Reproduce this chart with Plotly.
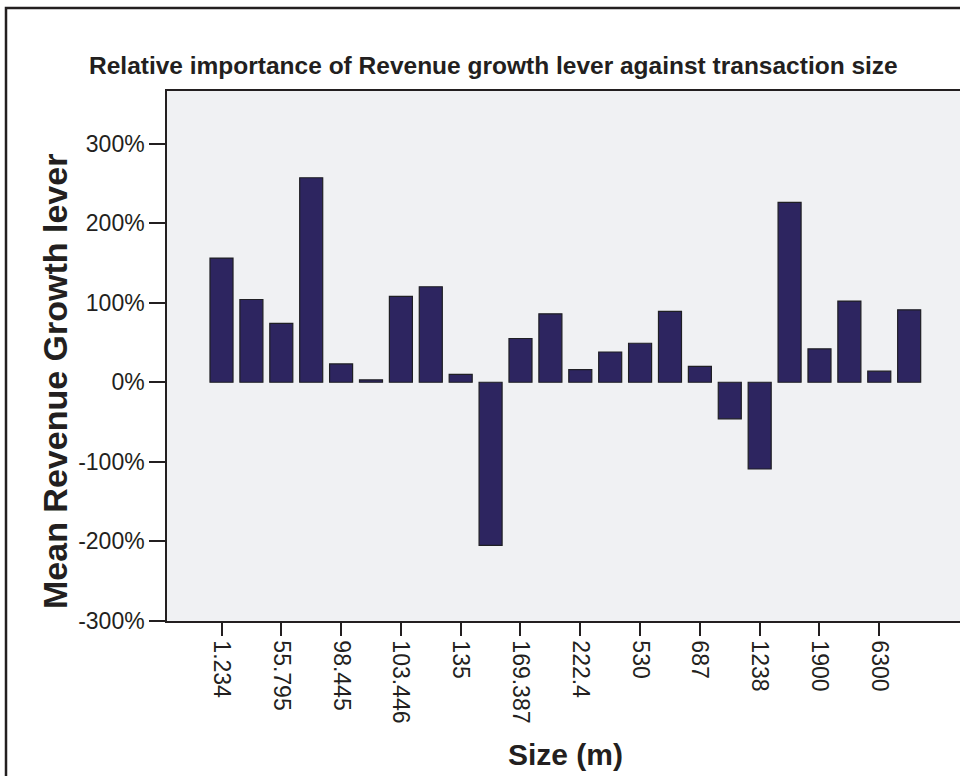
import plotly.graph_objects as go

# ---- data ----
size_tick_labels = ["1.234", "55.795", "98.445", "103.446", "135", "169.387",
                    "222.4", "530", "687", "1238", "1900", "6300"]
bar_positions = list(range(24))
mean_revenue_growth = [156, 104, 74, 257, 23, 3, 108, 120, 10, -205, 55, 86,
                       16, 38, 49, 89, 20, -46, -109, 226, 42, 102, 14, 91]
y_tick_values = [-300, -200, -100, 0, 100, 200, 300]
y_tick_labels = ["-300%", "-200%", "-100%", "0%", "100%", "200%", "300%"]

FONT = "Liberation Sans, Arial, Helvetica, sans-serif"
TXT = "#231f20"

W, H = 960, 776
ML, MR, MT, MB = 167, 0, 91, 155
PW, PH = W - ML - MR, H - MT - MB

def px_x(x):
    return (x - ML) / PW

def px_y(y):
    return (H - MB - y) / PH

fig = go.Figure()
fig.add_trace(go.Bar(
    x=bar_positions,
    y=mean_revenue_growth,
    width=0.77,
    marker=dict(color="#2d2560", line=dict(color="#1f1f24", width=1.2)),
    hoverinfo="y",
))

fig.update_layout(
    width=W, height=H,
    margin=dict(l=ML, r=MR, t=MT, b=MB),
    paper_bgcolor="white",
    plot_bgcolor="#f0f1f3",
    showlegend=False,
    font=dict(family=FONT, color=TXT, size=23),
    xaxis=dict(
        range=[-1.823, 24.70],
        tickvals=bar_positions[::2],
        ticktext=size_tick_labels,
        tickangle=90,
        ticks="outside", ticklen=13, tickwidth=1.5, tickcolor="#231f20",
        showline=True, linecolor="#231f20", linewidth=1.5, mirror=True,
        showgrid=False, zeroline=False,
        tickfont=dict(size=23, family=FONT, color=TXT),
    ),
    yaxis=dict(
        range=[-300, 366],
        tickvals=y_tick_values,
        ticktext=y_tick_labels,
        ticks="outside", ticklen=16, tickwidth=1.5, tickcolor="#231f20",
        showline=True, linecolor="#231f20", linewidth=1.5,
        showgrid=False, zeroline=False,
        tickfont=dict(size=23, family=FONT, color=TXT),
    ),
    shapes=[dict(
        type="rect", xref="paper", yref="paper",
        x0=px_x(6), x1=1.2, y0=-0.6, y1=px_y(8),
        line=dict(color="#231f20", width=2.5), fillcolor="rgba(0,0,0,0)",
        layer="above",
    )],
    annotations=[
        dict(text="<b>Relative importance of Revenue growth lever against transaction size</b>",
             xref="paper", yref="paper", x=px_x(493.5), y=px_y(66),
             xanchor="center", yanchor="middle", showarrow=False,
             font=dict(size=24.5, family=FONT, color=TXT)),
        dict(text="<b>Mean Revenue Growth lever</b>",
             xref="paper", yref="paper", x=px_x(55), y=px_y(382),
             xanchor="center", yanchor="middle", showarrow=False, textangle=-90,
             font=dict(size=34, family=FONT, color=TXT)),
        dict(text="<b>Size (m)</b>",
             xref="paper", yref="paper", x=px_x(565), y=px_y(754),
             xanchor="center", yanchor="middle", showarrow=False,
             font=dict(size=30, family=FONT, color=TXT)),
    ],
)

fig.write_html(
    "out.html",
    config={"displayModeBar": False},
    post_script="document.body.style.margin='0';document.body.style.overflow='hidden';",
)
